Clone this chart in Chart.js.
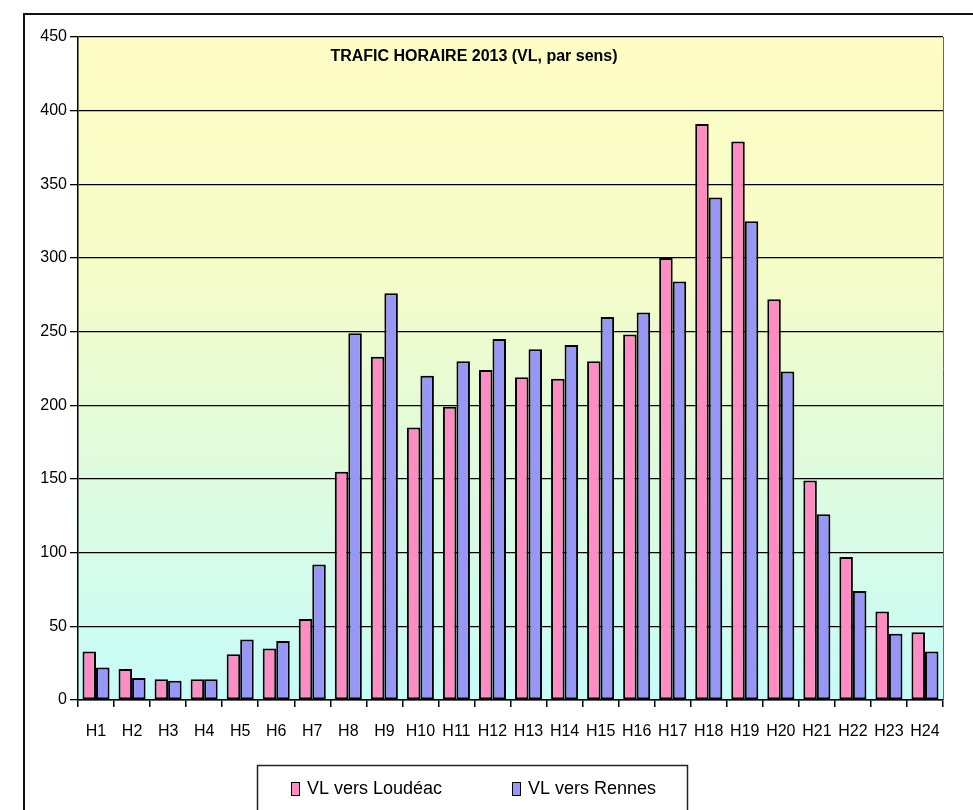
<!DOCTYPE html>
<html>
<head>
<meta charset="utf-8">
<script src="https://cdn.jsdelivr.net/npm/chart.js@4"></script>
<style>
  html, body { margin: 0; padding: 0; background: #fff; }
  canvas { display: block; }
</style>
</head>
<body>
<canvas id="trafic" width="973" height="810"></canvas>
<script>
// data
const hours = ['H1','H2','H3','H4','H5','H6','H7','H8','H9','H10','H11','H12',
               'H13','H14','H15','H16','H17','H18','H19','H20','H21','H22','H23','H24'];
const versLoudeac = [33, 21, 14, 14, 31, 35, 55, 155, 233, 185, 199, 224,
                     219, 218, 230, 248, 300, 391, 379, 272, 149, 97, 60, 46];
const versRennes = [22, 15, 13, 14, 41, 40, 92, 249, 276, 220, 230, 245,
                    238, 241, 260, 263, 284, 341, 325, 223, 126, 74, 45, 33];
const yMin = 0, yMax = 450, yStep = 50;
const chartTitle = 'TRAFIC HORAIRE 2013 (VL, par sens)';

const sans = "'Liberation Sans', Arial, sans-serif";

const backdrop = {
  id: 'backdrop',
  beforeDraw(chart) {
    const {ctx, chartArea: a} = chart;
    ctx.save();
    ctx.fillStyle = '#fff';
    ctx.fillRect(0, 0, chart.width, chart.height);
    const g = ctx.createLinearGradient(0, a.top, 0, a.bottom);
    g.addColorStop(0, '#fdfdc4');
    g.addColorStop(0.35, '#f6fcc8');
    g.addColorStop(0.6, '#e2fbda');
    g.addColorStop(1, '#c6fcf8');
    ctx.fillStyle = g;
    ctx.fillRect(a.left, a.top, a.right - a.left, a.bottom - a.top);
    ctx.restore();
  },
  afterDraw(chart) {
    const {ctx, chartArea: a} = chart;
    ctx.save();
    // right edge of plot
    ctx.strokeStyle = '#666';
    ctx.lineWidth = 1;
    ctx.beginPath();
    ctx.moveTo(a.right + 0.5, a.top);
    ctx.lineTo(a.right + 0.5, a.bottom);
    ctx.stroke();
    // outer frame (left + top)
    ctx.strokeStyle = '#111';
    ctx.lineWidth = 2;
    ctx.beginPath();
    ctx.moveTo(24, chart.height);
    ctx.lineTo(24, 14);
    ctx.lineTo(chart.width, 14);
    ctx.stroke();
    // title inside the plot
    ctx.fillStyle = '#000';
    ctx.font = 'bold 16px ' + sans;
    ctx.textAlign = 'center';
    ctx.textBaseline = 'middle';
    ctx.fillText(chartTitle, 474, 57);
    // boxed legend
    ctx.lineWidth = 1.5;
    ctx.strokeStyle = '#222';
    ctx.strokeRect(257.5, 765.5, 430, 70);
    const items = chart.data.datasets;
    const xs = [291, 512];
    ctx.font = '18px ' + sans;
    ctx.textAlign = 'left';
    items.forEach((ds, i) => {
      ctx.fillStyle = ds.backgroundColor;
      ctx.fillRect(xs[i], 782, 8, 13);
      ctx.lineWidth = 1;
      ctx.strokeStyle = '#000';
      ctx.strokeRect(xs[i] + 0.5, 782.5, 8, 13);
      ctx.fillStyle = '#000';
      ctx.fillText(ds.label, xs[i] + 16, 789);
    });
    ctx.restore();
  }
};

new Chart(document.getElementById('trafic'), {
  type: 'bar',
  data: {
    labels: hours,
    datasets: [{
      label: 'VL vers Loudéac',
      data: versLoudeac,
      backgroundColor: '#ff8cc2',
      borderColor: '#000',
      borderWidth: 2,
      borderSkipped: false
    }, {
      label: 'VL vers Rennes',
      data: versRennes,
      backgroundColor: '#9797f7',
      borderColor: '#000',
      borderWidth: 2,
      borderSkipped: false
    }]
  },
  plugins: [backdrop],
  options: {
    responsive: false,
    animation: false,
    devicePixelRatio: 1,
    categoryPercentage: 0.75,
    barPercentage: 1,
    layout: { padding: { left: 0, right: 30, top: 37, bottom: 0 } },
    plugins: {
      legend: { display: false },
      title: { display: false },
      tooltip: { enabled: false }
    },
    scales: {
      x: {
        offset: true,
        grid: { drawOnChartArea: false, drawTicks: true, tickLength: 7, color: '#000', lineWidth: 1.5, offset: true },
        border: { display: true, color: '#000', width: 1.5 },
        ticks: { color: '#000', font: { family: sans, size: 16 }, padding: 15, maxRotation: 0, autoSkip: false },
        afterFit(scale) { scale.height = 110; }
      },
      y: {
        min: yMin,
        max: yMax,
        grid: { color: '#000', lineWidth: 1.3, tickLength: 8 },
        border: { display: true, color: '#000', width: 1.5 },
        ticks: { stepSize: yStep, color: '#000', font: { family: sans, size: 16 }, padding: 3 },
        afterFit(scale) { scale.width = 78; }
      }
    }
  }
});
</script>
</body>
</html>
